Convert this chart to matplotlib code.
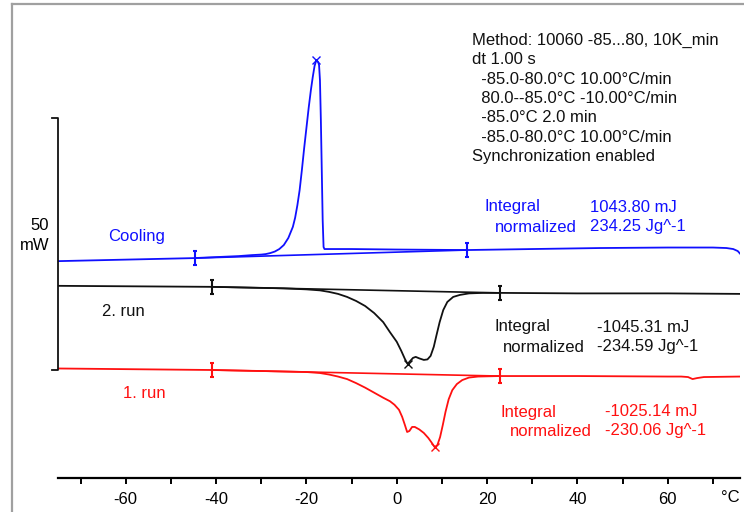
import numpy as np
import matplotlib
matplotlib.use("Agg")
import matplotlib.pyplot as plt
from matplotlib.lines import Line2D
from matplotlib.path import Path

plt.rcParams['font.family'] = ['Liberation Sans', 'DejaVu Sans']

# --- data (temperature in degC, heat flow in mW, curves offset) ---
cool_T = [-75, -60, -45, -40, -35, -32, -30, -29, -28, -27, -26, -25, -24, -23, -22.5, -22,
          -21.5, -21, -20.5, -20, -19.5, -19, -18.6, -18.2, -17.8, -17.4, -17.2, -17.0, -16.8,
          -16.6, -16.4, -16.2, -16.0, -10, 0, 15.5, 30, 45, 60, 70, 73, 74.5, 75.5, 76]
cool_P = [21.6, 21.9, 22.2, 22.4, 22.6, 22.8, 22.9, 23.0, 23.2, 23.5, 24.0, 24.8, 26.2, 28.4, 30.2, 32.7,
          35.7, 39.7, 44.0, 48.0, 52.0, 55.6, 58.1, 60.3, 61.5, 61.1, 60.5, 57.5, 49.6,
          39.7, 29.8, 24.4, 24.0, 24.0, 23.9, 23.8, 24.0, 24.2, 24.3, 24.3, 24.2, 24.0, 23.6, 23.1]
cool_lim = [-44.7, 15.5]
cool_base = [22.2, 23.8]
cool_peak = (-17.8, 61.5)

run2_T = [-75, -41, -30, -25, -20, -17, -15, -13, -11, -9, -7, -5, -3, -1.5, 0, 1, 1.8, 2.4,
          3.0, 3.6, 4.2, 5.0, 6.0, 6.8, 7.5, 8.2, 8.8, 9.5, 10.3, 11.2, 12.5, 14, 16, 19, 22.8,
          40, 60, 76]
run2_P = [16.7, 16.5, 16.3, 16.2, 16.0, 15.8, 15.5, 15.1, 14.5, 13.7, 12.7, 11.3, 9.5, 7.5, 5.6, 3.8, 2.2, 1.2,
          1.8, 2.4, 2.6, 2.3, 2.0, 2.1, 2.8, 4.6, 6.9, 9.5, 11.9, 13.5, 14.5, 14.9, 15.2, 15.3, 15.3,
          15.2, 15.2, 15.1]
run2_lim = [-41, 22.8]
run2_base = [16.5, 15.3]
run2_peak = (2.4, 1.2)

run1_T = [-75, -41, -30, -20, -17, -15, -13, -11, -9, -7, -5, -3, -1.5, -0.5, 0.5, 1.2, 1.8, 2.3,
          2.8, 3.4, 4.0, 5.0, 6.0, 7.0, 7.8, 8.4, 9.0, 9.6, 10.2, 10.8, 11.5, 12.3, 13.3, 14.5, 16,
          18, 22.8, 40, 60, 63, 64.5, 65.5, 66.5, 68, 76]
run1_P = [0.3, 0.0, -0.2, -0.4, -0.6, -0.9, -1.3, -1.8, -2.6, -3.5, -4.5, -5.5, -6.2, -6.9, -7.9, -9.3, -10.9, -12.3,
          -12.1, -11.3, -11.3, -11.8, -12.5, -13.5, -14.5, -15.3, -14.9, -13.3, -10.9, -8.3, -5.8, -4.0, -2.8, -2.0, -1.5,
          -1.3, -1.2, -1.2, -1.3, -1.3, -1.4, -1.8, -1.6, -1.4, -1.3]
run1_lim = [-41, 22.8]
run1_base = [0.0, -1.2]
run1_peak = (8.4, -15.3)

major_ticks = [-60, -40, -20, 0, 20, 40, 60]
minor_ticks = [-70, -50, -30, -10, 10, 30, 50, 70]
scale_bar = [0, 50]

method_lines = ["Method: 10060 -85...80, 10K_min",
                "dt 1.00 s",
                "  -85.0-80.0\u00b0C 10.00\u00b0C/min",
                "  80.0--85.0\u00b0C -10.00\u00b0C/min",
                "  -85.0\u00b0C 2.0 min",
                "  -85.0-80.0\u00b0C 10.00\u00b0C/min",
                "Synchronization enabled"]

BLUE = '#1010ff'
RED = '#ff1010'
BLACK = '#111111'

W, H = 744, 512
fig = plt.figure(figsize=(W / 100, H / 100), dpi=100)
ax = fig.add_axes([58 / W, (H - 478) / H, 682 / W, 468 / H])
ax.set_xlim(-75, 76)
ax.set_ylim(-21.43, 71.43)

# integration-limit marker: short vertical bar with small caps
lim_marker = Path([(0, -1), (0, 1), (-0.3, 0.9), (0.3, 0.9), (-0.3, -0.9), (0.3, -0.9)],
                  [Path.MOVETO, Path.LINETO, Path.MOVETO, Path.LINETO, Path.MOVETO, Path.LINETO])

curves = [(cool_T, cool_P, cool_lim, cool_base, cool_peak, BLUE),
          (run2_T, run2_P, run2_lim, run2_base, run2_peak, BLACK),
          (run1_T, run1_P, run1_lim, run1_base, run1_peak, RED)]
for T, P, lim, base, peak, c in curves:
    ax.plot(T, P, color=c, lw=1.3, solid_joinstyle='round')
    ax.plot(lim, base, color=c, lw=1.2)
    ax.plot(lim, base, ls='none', marker=lim_marker, ms=11, mew=1.5, color=c)
    ax.plot(*peak, ls='none', marker='x', ms=6, mew=1.0, color=c)

# 50 mW scale bar
x0 = ax.get_xlim()[0]
ax.plot([x0 - 1.3, x0, x0, x0 - 1.3], [scale_bar[1], scale_bar[1], scale_bar[0], scale_bar[0]],
        color=BLACK, lw=1.3, clip_on=False)

# axes styling
for s in ['top', 'left', 'right']:
    ax.spines[s].set_visible(False)
ax.spines['bottom'].set_linewidth(1.6)
ax.set_yticks([])
ax.set_xticks(major_ticks)
ax.set_xticks(minor_ticks, minor=True)
ax.set_xticklabels([str(t) for t in major_ticks])
ax.tick_params(axis='x', which='both', direction='out', length=4, width=1.4, labelsize=12, pad=6)
ax.patch.set_visible(False)

def ftext(x, y, s, **kw):
    fig.text(x / W, 1 - y / H, s, va='center', fontsize=12, **kw)

ftext(740, 498, "\u00b0C", ha='right')
ftext(49, 225, "50", ha='right')
ftext(50, 245, "mW", ha='right')

for i, line in enumerate(method_lines):
    ftext(472, 40 + i * 19.5, line, ha='left', color=BLACK)

ftext(108, 236, "Cooling", color=BLUE)
ftext(102, 311, "2. run", color=BLACK)
ftext(123, 393, "1. run", color=RED)

ftext(485, 207, "Integral", color=BLUE)
ftext(590, 207, "1043.80 mJ", color=BLUE)
ftext(495, 227, "normalized", color=BLUE)
ftext(590, 227, "234.25 Jg^-1", color=BLUE)

ftext(494, 327, "Integral", color=BLACK)
ftext(597, 327, "-1045.31 mJ", color=BLACK)
ftext(503, 347, "normalized", color=BLACK)
ftext(597, 347, "-234.59 Jg^-1", color=BLACK)

ftext(501, 412, "Integral", color=RED)
ftext(605, 412, "-1025.14 mJ", color=RED)
ftext(510, 431, "normalized", color=RED)
ftext(605, 431, "-230.06 Jg^-1", color=RED)

# gray frame on left and top
fig.add_artist(Line2D([11.5 / W, 11.5 / W], [0, 1 - 3.5 / H], color='#a0a0a0', lw=1.6))
fig.add_artist(Line2D([11.5 / W, 1], [1 - 3.5 / H, 1 - 3.5 / H], color='#a0a0a0', lw=1.6))

fig.savefig("out.png", dpi=100)
